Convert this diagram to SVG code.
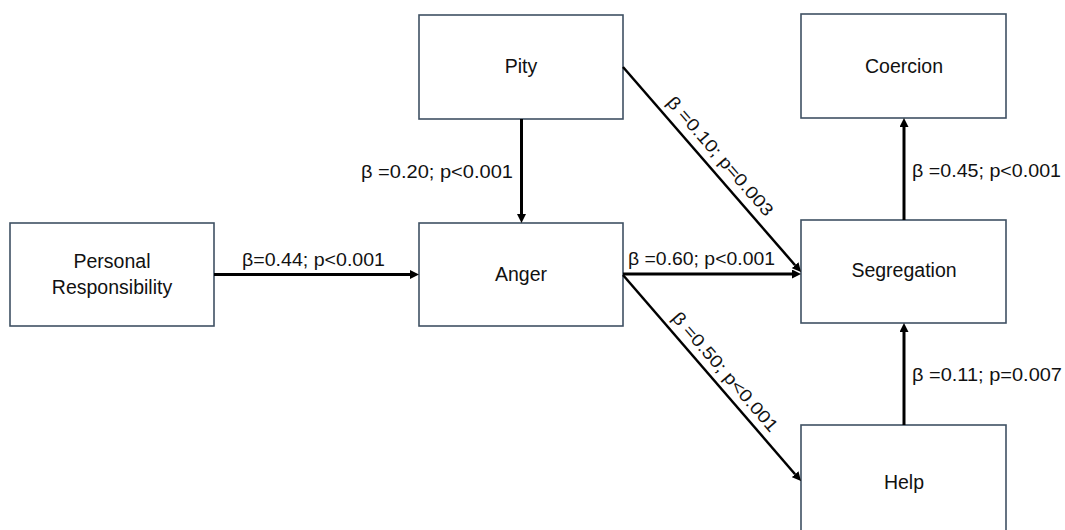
<svg xmlns="http://www.w3.org/2000/svg" width="1065" height="530" viewBox="0 0 1065 530">
<style>
.box{fill:#ffffff;stroke:#3f5163;stroke-width:1.6}
.nt{font-family:"Liberation Sans",Arial,sans-serif;font-size:19.5px;fill:#111;text-anchor:middle}
.lb{font-family:"Liberation Sans",Arial,sans-serif;font-size:17.5px;fill:#111}
.ln{stroke:#000;stroke-width:3;fill:none}
.dg{stroke:#000;stroke-width:2.5;fill:none}
</style>
<defs>
<marker id="ah" viewBox="0 0 9 9" refX="0" refY="4.5" markerWidth="9" markerHeight="9" markerUnits="userSpaceOnUse" orient="auto">
<path d="M0,0 L9,4.5 L0,9 z" fill="#000"/>
</marker>
</defs>
<rect width="1065" height="530" fill="#ffffff"/>
<g id="node-personal">
<rect class="box" x="10" y="223" width="204" height="103"/>
<text class="nt" x="112" y="268">Personal</text>
<text class="nt" x="112" y="294">Responsibility</text>
</g>
<g id="node-pity">
<rect class="box" x="419" y="15" width="204" height="104"/>
<text class="nt" x="521" y="73">Pity</text>
</g>
<g id="node-anger">
<rect class="box" x="419" y="223" width="204" height="103"/>
<text class="nt" x="521" y="281">Anger</text>
</g>
<g id="node-coercion">
<rect class="box" x="801" y="14" width="205" height="104"/>
<text class="nt" x="904" y="73">Coercion</text>
</g>
<g id="node-segregation">
<rect class="box" x="801" y="220" width="205" height="103"/>
<text class="nt" x="904" y="277">Segregation</text>
</g>
<g id="node-help">
<rect class="box" x="801" y="425" width="205" height="115"/>
<text class="nt" x="904" y="489">Help</text>
</g>
<g id="connectors">
<line class="ln" x1="214" y1="274.5" x2="410" y2="274.5" marker-end="url(#ah)"/>
<text class="lb" x="242" y="266" textLength="143" lengthAdjust="spacingAndGlyphs">β=0.44; p&lt;0.001</text>
<line class="ln" x1="521.5" y1="119" x2="521.5" y2="214" marker-end="url(#ah)"/>
<text class="lb" x="513" y="178" text-anchor="end" textLength="152" lengthAdjust="spacingAndGlyphs">β =0.20; p&lt;0.001</text>
<line class="ln" x1="623" y1="274" x2="792" y2="274" marker-end="url(#ah)"/>
<text class="lb" x="628" y="265" textLength="147" lengthAdjust="spacingAndGlyphs">β =0.60; p&lt;0.001</text>
<line class="dg" x1="623" y1="67" x2="795.1" y2="265.2" marker-end="url(#ah)"/>
<text class="lb" transform="translate(623,67) rotate(49.03)" x="131" y="-9" text-anchor="middle" textLength="152" lengthAdjust="spacingAndGlyphs">β =0.10; p=0.003</text>
<line class="dg" x1="623" y1="275" x2="795.1" y2="474.2" marker-end="url(#ah)"/>
<text class="lb" transform="translate(623,275) rotate(49.17)" x="140" y="-8" text-anchor="middle" textLength="152" lengthAdjust="spacingAndGlyphs">β =0.50; p&lt;0.001</text>
<line class="ln" x1="904" y1="220" x2="904" y2="127" marker-end="url(#ah)"/>
<text class="lb" x="912" y="177" textLength="149" lengthAdjust="spacingAndGlyphs">β =0.45; p&lt;0.001</text>
<line class="ln" x1="904" y1="425" x2="904" y2="332" marker-end="url(#ah)"/>
<text class="lb" x="912" y="381" textLength="150" lengthAdjust="spacingAndGlyphs">β =0.11; p=0.007</text>
</g>
</svg>
